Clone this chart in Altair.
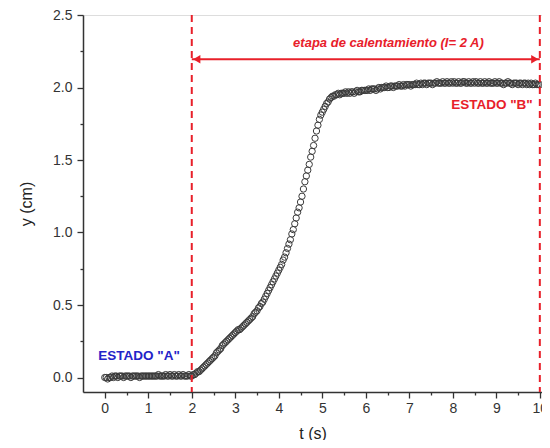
import altair as alt
import pandas as pd

# ---------------- data ----------------
FPS = 30  # frames per second of the sampled series
y_sec0 = [0.00, 0.00, -0.01, 0.00, 0.00, 0.01, 0.00, 0.01, 0.01, 0.00,
          0.01, 0.01, 0.01, 0.00, 0.01, 0.01, 0.01, 0.01, 0.00, 0.01,
          0.01, 0.01, 0.01, 0.01, 0.00, 0.01, 0.01, 0.01, 0.01, 0.01]
y_sec1 = [0.01, 0.01, 0.01, 0.01, 0.01, 0.01, 0.01, 0.02, 0.01, 0.01,
          0.01, 0.01, 0.02, 0.01, 0.01, 0.02, 0.01, 0.01, 0.02, 0.01,
          0.01, 0.02, 0.01, 0.01, 0.02, 0.01, 0.01, 0.01, 0.02, 0.01]
y_sec2 = [0.01, 0.02, 0.02, 0.03, 0.04, 0.04, 0.05, 0.06, 0.07, 0.08,
          0.09, 0.10, 0.11, 0.12, 0.13, 0.14, 0.15, 0.17, 0.18, 0.19,
          0.20, 0.22, 0.23, 0.24, 0.25, 0.26, 0.27, 0.28, 0.29, 0.30]
y_sec3 = [0.31, 0.32, 0.33, 0.33, 0.34, 0.35, 0.36, 0.37, 0.38, 0.39,
          0.40, 0.41, 0.42, 0.44, 0.45, 0.46, 0.48, 0.49, 0.51, 0.52,
          0.54, 0.56, 0.58, 0.60, 0.62, 0.64, 0.66, 0.68, 0.70, 0.72]
y_sec4 = [0.74, 0.76, 0.78, 0.81, 0.83, 0.86, 0.89, 0.92, 0.95, 0.99,
          1.02, 1.06, 1.10, 1.14, 1.17, 1.21, 1.25, 1.30, 1.35, 1.39,
          1.43, 1.47, 1.52, 1.56, 1.60, 1.65, 1.70, 1.74, 1.78, 1.81]
y_sec5 = [1.83, 1.85, 1.87, 1.89, 1.90, 1.92, 1.93, 1.94, 1.94, 1.95,
          1.95, 1.96, 1.95, 1.96, 1.96, 1.96, 1.97, 1.96, 1.97, 1.96,
          1.97, 1.97, 1.96, 1.97, 1.98, 1.97, 1.97, 1.98, 1.98, 1.98]
y_sec6 = [1.98, 1.98, 1.99, 1.98, 1.99, 1.99, 1.99, 1.98, 1.99, 2.00,
          1.99, 2.00, 2.00, 2.00, 2.01, 2.00, 2.00, 2.01, 2.01, 2.00,
          2.01, 2.01, 2.01, 2.02, 2.01, 2.01, 2.02, 2.01, 2.02, 2.02]
y_sec7 = [2.02, 2.01, 2.02, 2.02, 2.02, 2.03, 2.02, 2.02, 2.03, 2.02,
          2.03, 2.03, 2.02, 2.03, 2.03, 2.03, 2.02, 2.03, 2.03, 2.04,
          2.03, 2.03, 2.03, 2.04, 2.03, 2.03, 2.04, 2.03, 2.03, 2.04]
y_sec8 = [2.03, 2.04, 2.03, 2.03, 2.04, 2.03, 2.03, 2.04, 2.04, 2.03,
          2.03, 2.04, 2.03, 2.03, 2.04, 2.03, 2.04, 2.03, 2.03, 2.04,
          2.03, 2.03, 2.04, 2.03, 2.03, 2.04, 2.03, 2.03, 2.03, 2.04]
y_sec9 = [2.03, 2.03, 2.04, 2.03, 2.03, 2.02, 2.03, 2.03, 2.04, 2.03,
          2.03, 2.02, 2.03, 2.03, 2.03, 2.02, 2.03, 2.03, 2.02, 2.03,
          2.03, 2.02, 2.03, 2.02, 2.03, 2.02, 2.02, 2.03, 2.02, 2.02]
y_sec10 = [2.02]

x_major_ticks = [0, 1, 2, 3, 4, 5, 6, 7, 8, 9, 10]
x_minor_ticks = [0.5, 1.5, 2.5, 3.5, 4.5, 5.5, 6.5, 7.5, 8.5, 9.5]
y_major_ticks = [0.0, 0.5, 1.0, 1.5, 2.0, 2.5]
y_minor_ticks = [0.25, 0.75, 1.25, 1.75, 2.25]

stage_t = [2, 10]            # heating stage limits (dashed lines)
arrow_y = [2.195]            # level of the double arrow
title_text = ["etapa de calentamiento (I= 2 A)"]
title_t = [6.52]
title_y = [2.31]
state_texts = ['ESTADO "B"', 'ESTADO "A"']
state_t = [8.9, 0.79]
state_y = [1.88, 0.145]
state_colors = ["#e8202a", "#2323c8"]

# ---------------- tables ----------------
y_all = (y_sec0 + y_sec1 + y_sec2 + y_sec3 + y_sec4 + y_sec5 + y_sec6
         + y_sec7 + y_sec8 + y_sec9 + y_sec10)
df = pd.DataFrame({"t": [k / FPS for k in range(len(y_all))], "y": y_all})
vlines = pd.DataFrame({"t": stage_t})
arrow = pd.DataFrame({"t1": [stage_t[0]], "t2": [stage_t[1]], "y": arrow_y})
head_left = pd.DataFrame({"t": [stage_t[0]], "y": arrow_y})
head_right = pd.DataFrame({"t": [stage_t[1]], "y": arrow_y})
title_df = pd.DataFrame({"t": title_t, "y": title_y, "text": title_text})
states_df = pd.DataFrame({"t": state_t, "y": state_y, "text": state_texts,
                          "color": state_colors})

FONT = "Liberation Sans"
RED = "#e8202a"
xs = alt.Scale(domain=[-0.5, 10.05], nice=False, zero=False)
ys = alt.Scale(domain=[-0.1, 2.5], nice=False, zero=False)

x_axis = alt.Axis(values=x_major_ticks, orient="bottom", title="t (s)", grid=False,
                  tickSize=6, tickColor="#333", domainColor="#333", domainWidth=1.5,
                  tickWidth=1.3, labelFont=FONT, labelFontSize=14, labelColor="#333",
                  labelPadding=3, titleFont=FONT, titleFontSize=16,
                  titleFontWeight="normal", titleColor="#222",
                  titleY=41, titleBaseline="middle")
y_axis = alt.Axis(values=y_major_ticks, orient="left", title="y (cm)", grid=False,
                  format=".1f", tickSize=6, tickColor="#333", domainColor="#333",
                  domainWidth=1.5, tickWidth=1.3, labelFont=FONT, labelFontSize=14,
                  labelColor="#333", labelPadding=5, titleFont=FONT, titleFontSize=16,
                  titleFontWeight="normal", titleColor="#222",
                  titleX=-57, titleBaseline="middle")
x_minor = alt.Axis(values=x_minor_ticks, orient="bottom", title=None, labels=False,
                   domain=False, grid=False, tickSize=3, tickColor="#333", tickWidth=1.3)
y_minor = alt.Axis(values=y_minor_ticks, orient="left", title=None, labels=False,
                   domain=False, grid=False, tickSize=3, tickColor="#333", tickWidth=1.3)

points = alt.Chart(df).mark_point(
    shape="circle", filled=False, size=40, stroke="#3a3a3a", strokeWidth=1, opacity=1
).encode(
    x=alt.X("t:Q", scale=xs, axis=x_axis),
    y=alt.Y("y:Q", scale=ys, axis=y_axis),
)

dashed = alt.Chart(vlines).mark_rule(
    color=RED, strokeWidth=2, strokeDash=[7, 5]
).encode(x=alt.X("t:Q", scale=xs, axis=x_minor))

arrow_line = alt.Chart(arrow).mark_rule(color=RED, strokeWidth=2).encode(
    x=alt.X("t1:Q", scale=xs, axis=None),
    x2="t2:Q",
    y=alt.Y("y:Q", scale=ys, axis=y_minor),
)

head_l = alt.Chart(head_left).mark_point(
    shape="triangle-left", filled=True, color=RED, size=70, opacity=1, xOffset=5
).encode(x=alt.X("t:Q", scale=xs, axis=None), y=alt.Y("y:Q", scale=ys, axis=None))
head_r = alt.Chart(head_right).mark_point(
    shape="triangle-right", filled=True, color=RED, size=70, opacity=1, xOffset=-5
).encode(x=alt.X("t:Q", scale=xs, axis=None), y=alt.Y("y:Q", scale=ys, axis=None))

title_mark = alt.Chart(title_df).mark_text(
    font=FONT, fontSize=13, fontWeight="bold", fontStyle="italic", color=RED,
    align="center", baseline="middle"
).encode(
    x=alt.X("t:Q", scale=xs, axis=None),
    y=alt.Y("y:Q", scale=ys, axis=None),
    text="text:N",
)

state_marks = alt.Chart(states_df).mark_text(
    font=FONT, fontSize=13.5, fontWeight="bold", align="center", baseline="middle"
).encode(
    x=alt.X("t:Q", scale=xs, axis=None),
    y=alt.Y("y:Q", scale=ys, axis=None),
    text="text:N",
    color=alt.Color("color:N", scale=None),
)

chart = alt.layer(points, dashed, arrow_line, head_l, head_r, title_mark,
                  state_marks).resolve_axis(
    x="independent", y="independent"
).properties(
    width=459, height=377,
    autosize=alt.AutoSizeParams(type="none"),
    padding={"left": 75, "top": 7, "right": 0, "bottom": 48},
).configure_view(stroke="#333", strokeWidth=1.5).configure(background="white")

chart.save("out.html", embed_options={"renderer": "svg", "actions": False})
